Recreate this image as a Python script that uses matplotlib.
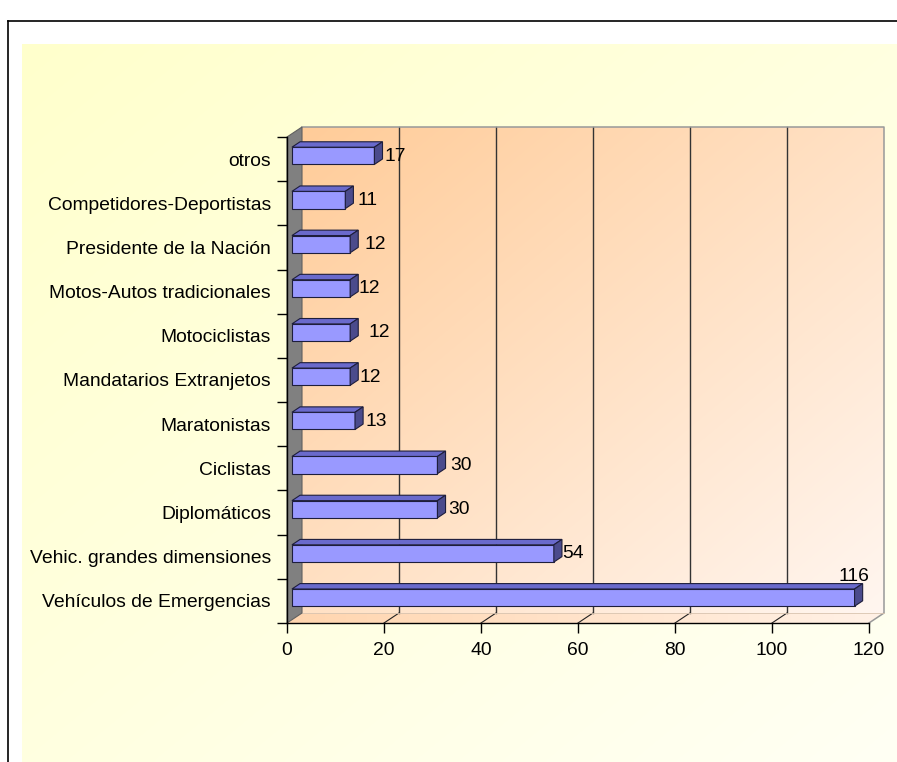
import numpy as np
import matplotlib
matplotlib.use('Agg')
import matplotlib.pyplot as plt
from matplotlib.patches import Polygon
from matplotlib.transforms import Affine2D, IdentityTransform
from matplotlib.colors import to_rgb

plt.rcParams['font.family'] = ['Liberation Sans', 'DejaVu Sans']

#======================== data (bottom to top) ========================

categories = ['Vehículos de Emergencias', 'Vehic. grandes dimensiones', 'Diplomáticos',
              'Ciclistas', 'Maratonistas', 'Mandatarios Extranjetos', 'Motociclistas',
              'Motos-Autos tradicionales', 'Presidente de la Nación',
              'Competidores-Deportistas', 'otros']
values = [116, 54, 30, 30, 13, 12, 12, 12, 12, 11, 17]
xticks = [0, 20, 40, 60, 80, 100, 120]

# small horizontal nudges of the value labels (pixels), None = label above the bar
label_nudge = [None, 0, 3, 5, 2, 1, 10, 0, 6, 4, 2]

#======================== layout ========================

W, H = 897, 762
DX, DY = 15, 10          # depth of the 3-D box in pixels
D_FRONT, D_BACK = 0.33, 0.87
BAR_H = 0.39
FS = 13.9

fig = plt.figure(figsize=(W / 100, H / 100), dpi=100)
fig.patch.set_facecolor('white')

ax_bg = fig.add_axes([0, 0, 1, 1])
ax_bg.set_xlim(0, W)
ax_bg.set_ylim(0, H)
ax_bg.axis('off')

ax = fig.add_axes([287 / W, (H - 623) / H, 582 / W, 486 / H])
ax.set_xlim(xticks[0], xticks[-1])
ax.set_ylim(-0.5, len(categories) - 0.5)
ax.patch.set_visible(False)

y0, y1 = -0.5, len(categories) - 0.5
xmax = xticks[-1]


def pt(x, y, d):
    p = ax.transData.transform((x, y))
    return (p[0] + d * DX, p[1] + d * DY)


def gradient_fill(pts, c0, c1, tfun, zorder):
    pts = np.array(pts)
    xa, xb = pts[:, 0].min(), pts[:, 0].max()
    ya, yb = pts[:, 1].min(), pts[:, 1].max()
    X, Y = np.meshgrid(np.linspace(0, 1, 200), np.linspace(0, 1, 200))
    t = np.clip(tfun(X, Y), 0, 1)[..., None]
    c0, c1 = np.array(to_rgb(c0)), np.array(to_rgb(c1))
    img = c0 + t * (c1 - c0)
    im = ax_bg.imshow(img, extent=(xa, xb, ya, yb), origin='lower', aspect='auto',
                      interpolation='bilinear', zorder=zorder)
    poly = Polygon(pts, closed=True, facecolor='none', edgecolor='none')
    ax_bg.add_patch(poly)
    im.set_clip_path(poly)


#======================== background ========================

gradient_fill([(22, 0), (W, 0), (W, H - 44), (22, H - 44)], '#FFFFCC', '#FFFFF4',
              lambda X, Y: 0.5 * (X + (1 - Y)), 0)
ax_bg.plot([8, 8], [0, H - 21], color='black', lw=1.2, zorder=1)
ax_bg.plot([8, W], [H - 21, H - 21], color='black', lw=1.2, zorder=1)

#======================== 3-D box ========================

back = [pt(0, y0, 1), pt(xmax, y0, 1), pt(xmax, y1, 1), pt(0, y1, 1)]
gradient_fill(back, '#FFCC99', '#FFF6F0', lambda X, Y: 0.5 * (X + (1 - Y)), 2)

floor = [pt(0, y0, 0), pt(xmax, y0, 0), pt(xmax, y0, 1), pt(0, y0, 1)]
gradient_fill(floor, '#FFD2A8', '#FFF3EA', lambda X, Y: 0.1 + 0.85 * X, 2)

ax_bg.add_patch(Polygon([pt(0, y0, 0), pt(0, y1, 0), pt(0, y1, 1), pt(0, y0, 1)],
                        closed=True, facecolor='#808080', edgecolor='#606060',
                        lw=0.8, zorder=4))

for x in xticks[1:-1]:
    a, b = pt(x, y0, 1), pt(x, y1, 1)
    ax_bg.plot([a[0], b[0]], [a[1], b[1]], color='#333333', lw=1.0, zorder=3)
    a, b = pt(x, y0, 0), pt(x, y0, 1)
    ax_bg.plot([a[0], b[0]], [a[1], b[1]], color='#222222', lw=0.8, zorder=3)

edge = [pt(0, y1, 1), pt(xmax, y1, 1), pt(xmax, y0, 1), pt(xmax, y0, 0)]
ax_bg.plot([p[0] for p in edge], [p[1] for p in edge], color='#999999', lw=1.1, zorder=3)
a, b = pt(0, y0, 1), pt(xmax, y0, 1)
ax_bg.plot([a[0], b[0]], [a[1], b[1]], color='#D8C4B0', lw=0.6, zorder=3)

#======================== bars ========================

front_c, top_c, side_c, edge_c = '#9999FF', '#6A6ACC', '#4B4B8C', '#1E1E3C'
pos = np.arange(len(categories))

ax.barh(pos, values, height=BAR_H, color=front_c, edgecolor=edge_c, lw=0.8,
        transform=ax.transData + Affine2D().translate(D_FRONT * DX, D_FRONT * DY),
        clip_on=False, zorder=3)

for i, v in enumerate(values):
    lo, hi = i - BAR_H / 2, i + BAR_H / 2
    top = [pt(0, hi, D_FRONT), pt(v, hi, D_FRONT), pt(v, hi, D_BACK), pt(0, hi, D_BACK)]
    side = [pt(v, lo, D_FRONT), pt(v, hi, D_FRONT), pt(v, hi, D_BACK), pt(v, lo, D_BACK)]
    for face, c in ((top, top_c), (side, side_c)):
        ax.add_patch(Polygon(face, closed=True, facecolor=c, edgecolor=edge_c, lw=0.8,
                             transform=IdentityTransform(), clip_on=False, zorder=3))

    n = label_nudge[i]
    if n is None:
        ax.annotate(str(v), xy=(v, i), xytext=(4, 20), textcoords='offset pixels',
                    ha='center', va='baseline', fontsize=FS, zorder=5)
    else:
        ax.annotate(str(v), xy=(v, i), xytext=(D_BACK * DX + n, -1.5),
                    textcoords='offset pixels', ha='left', va='baseline',
                    fontsize=FS, zorder=5)

#======================== axes ========================

for s in ('top', 'right'):
    ax.spines[s].set_visible(False)
for s in ('left', 'bottom'):
    ax.spines[s].set_color('black')
    ax.spines[s].set_linewidth(1.0)
    ax.spines[s].set_zorder(6)

ax.set_xticks(xticks)
ax.tick_params(axis='x', length=7.2, width=1.0, pad=6.6, labelsize=FS, colors='black')

ax.set_yticks(pos)
ax.set_yticklabels(categories)
ax.set_yticks(np.arange(y0, y1 + 0.01, 1), minor=True)
ax.tick_params(axis='y', which='major', length=0, pad=11.5, labelsize=FS)
ax.tick_params(axis='y', which='minor', length=7.2, width=1.0, direction='out')

fig.savefig('out.png', dpi=100, facecolor='white')
